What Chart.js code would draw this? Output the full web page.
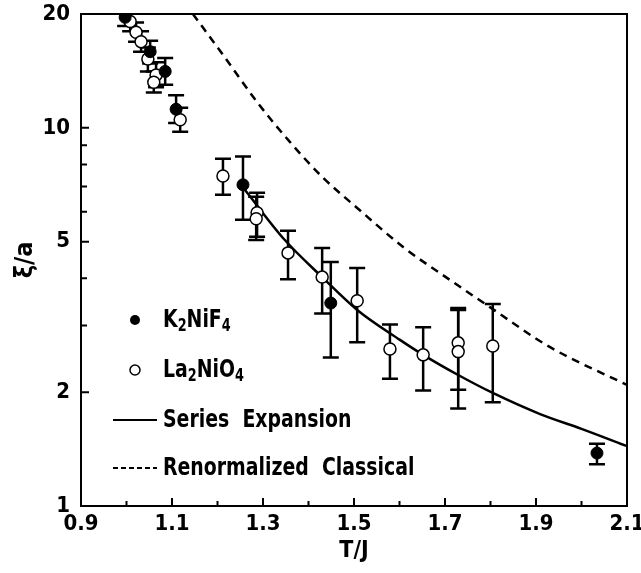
<!DOCTYPE html>
<html>
<head>
<meta charset="utf-8">
<title>Correlation length vs T/J</title>
<script src="https://cdn.jsdelivr.net/npm/chart.js@4.4.1/dist/chart.umd.min.js"></script>
<style>
  html, body { margin: 0; padding: 0; background: #fff; }
  canvas { display: block; }
</style>
</head>
<body>
<canvas id="xi-chart" width="641" height="573"></canvas>
<script>
// K2NiF4 data (filled circles)
const k2nif4T = [0.997, 1.052, 1.085, 1.109, 1.256, 1.449, 2.034];
const k2nif4Xi = [19.6, 15.9, 14.1, 11.2, 7.07, 3.44, 1.38];
const k2nif4Lo = [18.6, 14.8, 13.0, 10.3, 5.71, 2.47, 1.29];
const k2nif4Hi = [20.5, 17.0, 15.3, 12.2, 8.40, 4.42, 1.46];

// La2NiO4 data (open circles)
const la2nio4T = [1.008, 1.021, 1.032, 1.047, 1.065, 1.060, 1.118, 1.212, 1.287, 1.285,
  1.355, 1.430, 1.507, 1.579, 1.652, 1.729, 1.729, 1.805];
const la2nio4Xi = [19.1, 17.9, 16.9, 15.2, 13.8, 13.2, 10.5, 7.46, 5.96, 5.75,
  4.67, 4.03, 3.49, 2.60, 2.51, 2.70, 2.56, 2.65];
const la2nio4Lo = [18.0, 16.9, 15.9, 14.1, 12.8, 12.4, 9.76, 6.65, 5.15, 5.05,
  3.98, 3.23, 2.71, 2.17, 2.02, 2.03, 1.81, 1.88];
const la2nio4Hi = [20.3, 19.0, 18.0, 16.3, 14.9, 14.1, 11.3, 8.29, 6.74, 6.57,
  5.34, 4.81, 4.26, 3.02, 2.97, 3.34, 3.30, 3.42];

// Series expansion curve
const seriesT = [1.260, 1.348, 1.430, 1.507, 1.601, 1.652, 1.729, 1.805, 1.909, 2.0, 2.1];
const seriesXi = [6.86, 5.05, 4.03, 3.30, 2.75, 2.51, 2.22, 1.99, 1.75, 1.60, 1.44];

// Renormalized classical curve
const classicalT = [1.146, 1.212, 1.287, 1.359, 1.432, 1.507, 1.608, 1.711, 1.795, 1.931, 2.1];
const classicalXi = [20, 15.6, 11.7, 9.18, 7.38, 6.14, 4.84, 3.96, 3.38, 2.63, 2.09];

// Axis ticks
const xTicks = [0.9, 1.1, 1.3, 1.5, 1.7, 1.9, 2.1];
const xMinorTicks = [1.0, 1.2, 1.4, 1.6, 1.8, 2.0];
const yTicks = [1, 2, 5, 10, 20];
const yMinorTicks = [3, 4, 6, 7, 8, 9];

const legendLabels = ["K2NiF4", "La2NiO4", "Series  Expansion", "Renormalized  Classical"];

const FONT = "'DejaVu Sans Condensed', 'Liberation Sans Narrow', 'Liberation Sans', sans-serif";

function toPoints(xs, ys) {
  return xs.map((x, i) => ({ x: x, y: ys[i] }));
}

// error bars, drawn under the markers
const errorBars = {
  id: "errorBars",
  beforeDatasetsDraw(chart) {
    const { ctx, chartArea, scales } = chart;
    ctx.save();
    ctx.beginPath();
    ctx.rect(chartArea.left, chartArea.top, chartArea.width, chartArea.height);
    ctx.clip();
    ctx.strokeStyle = "#000";
    ctx.lineWidth = 2.5;
    const sets = [
      [k2nif4T, k2nif4Lo, k2nif4Hi],
      [la2nio4T, la2nio4Lo, la2nio4Hi],
    ];
    sets.forEach(([ts, lo, hi]) => {
      ts.forEach((t, i) => {
        const px = scales.x.getPixelForValue(t);
        const top = scales.y.getPixelForValue(hi[i]);
        const bot = scales.y.getPixelForValue(lo[i]);
        ctx.beginPath();
        ctx.moveTo(px, top);
        ctx.lineTo(px, bot);
        ctx.moveTo(px - 8, top);
        ctx.lineTo(px + 8, top);
        ctx.moveTo(px - 8, bot);
        ctx.lineTo(px + 8, bot);
        ctx.stroke();
      });
    });
    ctx.restore();
  },
};

// box around the plot with inward ticks
const frame = {
  id: "frame",
  afterDraw(chart) {
    const { ctx, chartArea: a, scales } = chart;
    ctx.save();
    ctx.strokeStyle = "#000";
    ctx.lineWidth = 2;
    ctx.strokeRect(a.left, a.top, a.right - a.left, a.bottom - a.top);
    ctx.beginPath();
    xTicks.forEach((v) => {
      const px = scales.x.getPixelForValue(v);
      ctx.moveTo(px, a.bottom);
      ctx.lineTo(px, a.bottom - 8);
    });
    xMinorTicks.forEach((v) => {
      const px = scales.x.getPixelForValue(v);
      ctx.moveTo(px, a.bottom);
      ctx.lineTo(px, a.bottom - 5);
    });
    yTicks.forEach((v) => {
      const py = scales.y.getPixelForValue(v);
      ctx.moveTo(a.left, py);
      ctx.lineTo(a.left + 8, py);
    });
    yMinorTicks.forEach((v) => {
      const py = scales.y.getPixelForValue(v);
      ctx.moveTo(a.left, py);
      ctx.lineTo(a.left + 6, py);
    });
    ctx.stroke();
    ctx.restore();
  },
};

// text with digits as subscripts, squeezed a bit to match the narrow face
function drawChemText(ctx, text, x, y) {
  ctx.save();
  ctx.translate(x, y);
  ctx.scale(0.84, 1);
  let cx = 0;
  for (const ch of text) {
    const sub = /[0-9]/.test(ch);
    ctx.font = sub ? "bold 17px " + FONT : "bold 25px " + FONT;
    ctx.fillText(ch, cx, sub ? 7 : 0);
    cx += ctx.measureText(ch).width;
  }
  ctx.restore();
}

const customLegend = {
  id: "customLegend",
  afterDraw(chart) {
    const ctx = chart.ctx;
    const rows = [320, 370, 420, 468];
    ctx.save();
    ctx.fillStyle = "#000";
    ctx.strokeStyle = "#000";
    ctx.textBaseline = "middle";

    // filled marker
    ctx.beginPath();
    ctx.arc(135, rows[0], 5, 0, Math.PI * 2);
    ctx.fill();
    // open marker
    ctx.beginPath();
    ctx.lineWidth = 1.5;
    ctx.arc(135, rows[1], 5, 0, Math.PI * 2);
    ctx.stroke();
    // solid line
    ctx.lineWidth = 2;
    ctx.beginPath();
    ctx.moveTo(113, rows[2]);
    ctx.lineTo(157, rows[2]);
    ctx.stroke();
    // dashed line
    ctx.setLineDash([5, 3]);
    ctx.beginPath();
    ctx.moveTo(113, rows[3]);
    ctx.lineTo(157, rows[3]);
    ctx.stroke();
    ctx.setLineDash([]);

    legendLabels.forEach((label, i) => {
      drawChemText(ctx, label, 163, rows[i]);
    });
    ctx.restore();
  },
};

const ctx = document.getElementById("xi-chart").getContext("2d");

new Chart(ctx, {
  type: "scatter",
  data: {
    datasets: [
      {
        label: "K2NiF4",
        data: toPoints(k2nif4T, k2nif4Xi),
        pointRadius: 6,
        pointBackgroundColor: "#000",
        pointBorderColor: "#000",
        pointBorderWidth: 1,
        order: 1,
      },
      {
        label: "La2NiO4",
        data: toPoints(la2nio4T, la2nio4Xi),
        pointRadius: 6,
        pointBackgroundColor: "#fff",
        pointBorderColor: "#000",
        pointBorderWidth: 1.5,
        order: 2,
      },
      {
        label: "Series Expansion",
        data: toPoints(seriesT, seriesXi),
        showLine: true,
        pointRadius: 0,
        borderColor: "#000",
        borderWidth: 2.5,
        cubicInterpolationMode: "monotone",
        order: 3,
      },
      {
        label: "Renormalized Classical",
        data: toPoints(classicalT, classicalXi),
        showLine: true,
        pointRadius: 0,
        borderColor: "#000",
        borderWidth: 2.5,
        borderDash: [8, 6],
        cubicInterpolationMode: "monotone",
        order: 4,
      },
    ],
  },
  options: {
    responsive: false,
    animation: false,
    devicePixelRatio: 1,
    layout: {
      padding: { top: 14, right: 14, left: 0, bottom: 0 },
    },
    plugins: {
      legend: { display: false },
      tooltip: { enabled: false },
    },
    scales: {
      x: {
        type: "linear",
        min: 0.9,
        max: 2.1,
        afterBuildTicks: (scale) => {
          scale.ticks = xTicks.map((v) => ({ value: v }));
        },
        afterFit: (scale) => {
          scale.height = 67;
          scale.paddingLeft = 0;
          scale.paddingRight = 0;
        },
        grid: { display: false, drawTicks: false },
        border: { display: false },
        ticks: {
          color: "#000",
          padding: 5,
          font: { family: FONT, size: 22, weight: "bold" },
          callback: (v) => Number(v).toFixed(1),
        },
        title: {
          display: true,
          text: "T/J",
          color: "#000",
          padding: { top: 0, bottom: 8 },
          font: { family: FONT, size: 23, weight: "bold" },
        },
      },
      y: {
        type: "logarithmic",
        min: 1,
        max: 20,
        afterBuildTicks: (scale) => {
          scale.ticks = yTicks.map((v) => ({ value: v }));
        },
        afterFit: (scale) => {
          scale.width = 81;
          scale.paddingTop = 0;
          scale.paddingBottom = 0;
        },
        grid: { display: false, drawTicks: false },
        border: { display: false },
        ticks: {
          color: "#000",
          padding: 11,
          font: { family: FONT, size: 22, weight: "bold" },
          callback: (v) => String(v),
        },
        title: {
          display: true,
          text: "ξ/a",
          color: "#000",
          padding: { top: 10, bottom: 0 },
          font: { family: FONT, size: 25, weight: "bold" },
        },
      },
    },
  },
  plugins: [errorBars, frame, customLegend],
});
</script>
</body>
</html>
